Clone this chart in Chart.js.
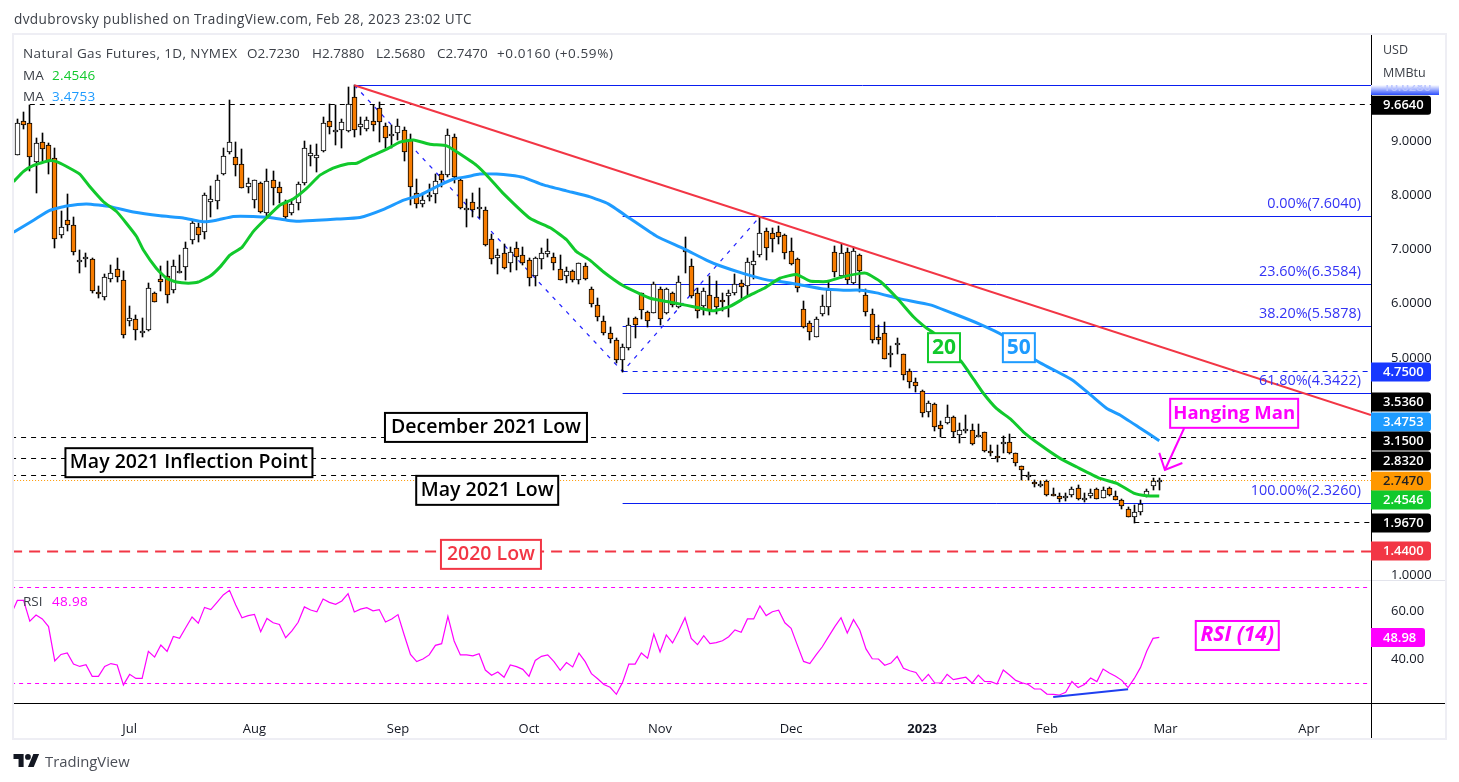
<!DOCTYPE html>
<html>
<head>
<meta charset="utf-8">
<title>Natural Gas Futures</title>
<script src="https://cdn.jsdelivr.net/npm/chart.js@4"></script>
<style>
    html, body { margin: 0; padding: 0; background: #fff; }
    body { width: 1459px; height: 782px; position: relative; overflow: hidden; font-family: "Open Sans", sans-serif; color: #3c4048; }
    canvas { position: absolute; left: 0; top: 0; }
    .txt { position: absolute; white-space: pre; font-size: 13.5px; line-height: 18px; transform: translateY(-50%); }
    .logo { position: absolute; left: 13px; top: 754px; }
</style>
</head>
<body>
<canvas id="chart" width="1459" height="782"></canvas>
<div class="txt" style="left:14px;top:19px;font-size:13.6px;letter-spacing:0.37px">dvdubrovsky published on TradingView.com, Feb 28, 2023 23:02 UTC</div>
<div class="txt" style="left:23px;top:53px;letter-spacing:0.4px">Natural Gas Futures, 1D, NYMEX</div>
<div class="txt" style="left:247px;top:53px">O2.7230</div>
<div class="txt" style="left:312px;top:53px">H2.7880</div>
<div class="txt" style="left:376px;top:53px">L2.5680</div>
<div class="txt" style="left:437px;top:53px">C2.7470</div>
<div class="txt" style="left:497px;top:53px;letter-spacing:0.6px">+0.0160 (+0.59%)</div>
<div class="txt" style="left:23px;top:75px">MA</div>
<div class="txt" style="left:52px;top:75px;color:#11c92c;letter-spacing:0.2px">2.4546</div>
<div class="txt" style="left:23px;top:96px">MA</div>
<div class="txt" style="left:52px;top:96px;color:#1e9bff;letter-spacing:0.2px">3.4753</div>
<div class="txt" style="left:23px;top:601px">RSI</div>
<div class="txt" style="left:52px;top:601px;color:#ff00ff;letter-spacing:0.3px">48.98</div>
<div class="txt" style="left:1383px;top:50px;font-size:12.5px">USD</div>
<div class="txt" style="left:1383px;top:73px;font-size:12.5px">MMBtu</div>
<svg class="logo" width="27" height="13" viewBox="0 0 36 18"><path d="M14 18H7V7H0V0h14v18zM28 18h-8l7.5-18h8L28 18z" fill="#131722"/><circle cx="20" cy="4" r="4" fill="#131722"/></svg>
<div class="txt" style="left:45px;top:761px;font-size:14.8px;color:#4a4e57">TradingView</div>
<script>
// candles, one per session
const opens = [8.75,9.36,9.33,8.62,8.99,8.92,8.68,7.26,7.54,7.45,
    6.79,6.84,6.82,6.22,6.12,6.46,6.64,6.43,5.69,5.71,
    5.46,5.52,6.19,6.45,6.52,6.25,6.58,6.67,7.17,7.42,
    7.32,7.87,7.89,8.39,8.80,8.70,8.57,8.15,7.91,8.22,
    7.67,8.28,8.15,7.87,7.67,7.85,8.22,8.72,8.68,8.81,
    9.36,9.16,9.20,9.18,9.82,9.25,9.23,9.36,9.60,9.27,
    9.09,9.14,9.20,9.03,8.04,7.83,7.98,8.02,8.39,8.38,
    9.07,8.29,7.74,7.87,7.74,7.72,7.19,6.84,6.93,6.76,
    7.02,6.89,6.80,6.52,6.82,6.91,6.86,6.64,6.51,6.60,
    6.43,6.69,6.27,5.97,5.68,5.46,5.33,4.96,5.18,5.73,
    6.19,5.84,5.83,6.27,5.83,6.19,5.94,6.99,6.69,6.19,
    5.95,6.16,6.12,6.06,6.14,6.19,6.38,6.32,6.71,6.89,
    7.34,7.30,7.32,7.26,6.97,6.82,5.90,5.64,5.38,5.81,
    5.94,6.95,6.52,6.95,6.38,6.89,6.16,5.82,5.38,5.46,
    5.07,5.26,5.07,4.76,4.55,4.39,4.00,4.15,3.76,3.80,
    3.91,3.58,3.67,3.67,3.56,3.63,3.29,3.19,3.43,3.45,
    3.24,3.00,2.82,2.71,2.66,2.73,2.49,2.45,2.41,2.48,
    2.60,2.40,2.45,2.58,2.41,2.60,2.45,2.38,2.21,2.06,
    2.16,2.45,2.64,2.723];
const highs = [9.40,9.54,9.66,9.05,9.14,8.96,8.88,7.71,8.02,7.59,
    6.99,6.93,6.84,6.32,6.54,6.71,6.84,6.60,5.96,5.79,
    5.73,6.38,6.22,6.70,6.78,6.81,6.90,7.13,7.54,7.48,
    8.04,8.17,8.37,8.87,9.76,8.99,8.85,8.31,8.29,8.25,
    8.48,8.45,8.24,7.91,7.89,8.25,9.00,8.93,8.95,9.44,
    9.68,9.66,9.40,9.99,10.028,9.45,9.44,9.66,9.71,9.33,
    9.30,9.40,9.25,9.12,8.30,8.04,8.21,8.40,8.45,9.23,
    9.12,8.30,7.93,8.04,8.13,7.78,7.29,7.00,7.11,7.04,
    7.13,7.04,6.84,6.86,7.02,7.19,6.93,6.89,6.68,6.62,
    6.76,6.75,6.30,6.10,5.78,5.57,5.36,5.26,5.74,5.75,
    6.19,5.87,6.40,6.30,6.29,6.22,6.51,7.23,6.82,6.29,
    6.29,6.51,6.42,6.19,6.26,6.54,6.44,6.84,6.97,7.60,
    7.39,7.39,7.43,7.28,7.21,6.84,6.05,5.69,5.76,6.16,
    6.41,7.06,7.10,7.02,7.05,6.91,6.27,5.90,5.60,5.66,
    5.23,5.36,5.07,4.79,4.63,4.41,4.21,4.17,3.83,4.13,
    3.93,3.80,3.94,3.78,3.78,3.64,3.40,3.40,3.56,3.59,
    3.24,3.01,2.89,2.76,2.73,2.76,2.60,2.51,2.51,2.62,
    2.65,2.51,2.58,2.60,2.62,2.62,2.54,2.40,2.26,2.29,
    2.38,2.58,2.78,2.788];
const lows = [8.75,9.22,8.44,8.04,8.63,8.40,7.02,7.21,7.35,6.89,
    6.56,6.68,6.19,6.10,6.07,6.41,6.41,5.36,5.59,5.34,
    5.39,5.49,6.03,6.24,6.02,6.19,6.56,6.43,7.11,7.13,
    7.19,7.60,7.75,8.37,8.76,8.36,8.13,8.04,7.76,7.67,
    7.58,7.82,7.85,7.56,7.64,7.72,8.19,8.53,8.42,8.79,
    9.13,8.93,8.88,9.17,9.07,9.11,9.19,9.19,8.99,8.88,
    8.87,9.02,8.63,7.82,7.76,7.78,7.90,7.86,8.15,8.33,
    8.22,7.74,7.42,7.59,7.58,7.07,6.73,6.54,6.64,6.58,
    6.62,6.72,6.32,6.32,6.64,6.87,6.62,6.43,6.38,6.41,
    6.36,6.43,5.94,5.69,5.43,5.27,4.90,4.75,5.15,5.36,
    5.72,5.57,5.83,5.61,5.81,5.94,5.92,6.57,6.10,5.73,
    5.79,5.79,5.82,5.87,5.75,6.16,6.07,6.14,6.46,6.86,
    6.81,6.95,7.11,6.82,6.72,6.22,5.56,5.34,5.38,5.78,
    5.79,6.50,6.47,6.36,6.36,6.22,5.78,5.27,5.26,4.99,
    4.84,5.07,4.60,4.44,4.38,3.91,3.91,3.66,3.54,3.78,
    3.54,3.43,3.61,3.39,3.54,3.27,3.19,3.09,3.24,3.23,
    3.00,2.76,2.76,2.62,2.62,2.46,2.45,2.35,2.37,2.43,
    2.38,2.35,2.41,2.40,2.41,2.45,2.38,2.21,2.06,1.967,
    2.10,2.43,2.56,2.568];
const closes = [9.33,9.29,8.70,8.96,8.85,8.61,7.19,7.41,7.46,6.95,
    6.81,6.86,6.24,6.21,6.50,6.56,6.49,5.42,5.73,5.51,
    5.50,6.29,6.03,6.41,6.16,6.69,6.60,7.02,7.48,7.26,
    8.00,7.93,8.29,8.72,8.99,8.55,8.13,8.22,8.28,7.70,
    8.26,8.13,8.05,7.59,7.83,8.20,8.87,8.77,8.74,9.33,
    9.25,9.20,9.35,9.68,9.20,9.32,9.38,9.29,9.35,9.05,
    9.12,9.27,8.79,8.15,7.83,7.91,8.00,8.26,8.28,9.11,
    8.33,7.76,7.76,7.72,7.78,7.08,6.82,6.89,6.65,6.95,
    6.87,6.76,6.47,6.84,6.93,6.97,6.75,6.43,6.60,6.43,
    6.75,6.45,5.99,5.75,5.46,5.35,4.96,5.20,5.60,5.60,
    5.88,5.68,6.36,5.71,6.27,5.97,6.40,6.95,6.14,5.86,
    6.23,5.88,5.94,6.03,6.19,6.36,6.30,6.77,6.78,7.30,
    7.02,7.19,7.23,6.93,6.73,6.29,5.57,5.47,5.71,5.95,
    6.25,6.58,6.93,6.43,6.97,6.60,5.84,5.33,5.33,4.99,
    5.09,5.28,4.68,4.55,4.48,3.98,4.17,3.72,3.70,3.91,
    3.63,3.67,3.69,3.41,3.58,3.29,3.27,3.17,3.45,3.24,
    3.06,2.93,2.84,2.67,2.67,2.47,2.45,2.40,2.45,2.58,
    2.40,2.41,2.51,2.40,2.56,2.47,2.38,2.27,2.06,2.17,
    2.30,2.54,2.73,2.747];

// moving averages, read at the bends of each curve (bar position, price)
const ma20Bars = [-0.6,1,2.6,5.2,6.3,7.9,10,11.6,13.8,15.9,17.5,19.1,20.2,22.3,23.9,25.5,27.4,29,30.9,32.5,34.1,36,37.8,40,42.1,44.2,46.4,48.5,50.6,53,54.4,56.5,59.2,61.3,63.5,66.1,68.8,70.4,73.6,75.7,77.9,82.2,85.4,88,89.6,91.8,93.9,97.1,99.8,101.4,104.1,107.3,109.4,111.5,114.2,116.9,119.6,122.2,124.9,127,129.7,132.4,135.1,136.1,138.3,141,143.6,145.7,146.8,151.3,153.3,154.8,156.9,159.3,161.2,163.9,167.1,169.8,173.5,176.2,178.9,181,183];
const ma20Vals = [8.25,8.44,8.55,8.64,8.62,8.53,8.39,8.16,7.88,7.70,7.48,7.24,6.99,6.65,6.47,6.40,6.38,6.40,6.51,6.68,6.90,7.04,7.33,7.59,7.82,7.93,8.13,8.37,8.50,8.58,8.59,8.71,8.85,8.98,9.02,8.94,8.91,8.80,8.55,8.31,8.03,7.57,7.40,7.18,6.96,6.80,6.59,6.33,6.18,6.10,6.04,5.97,5.92,5.87,5.95,6.13,6.28,6.47,6.54,6.42,6.41,6.50,6.56,6.56,6.41,6.10,5.76,5.55,5.47,4.93,4.60,4.35,4.07,3.86,3.64,3.40,3.15,2.99,2.78,2.69,2.51,2.46,2.4546];
const ma50Bars = [-0.6,2.6,5.2,7.9,11.1,14.9,18.6,22.9,26.6,29.8,31.9,34.6,37.8,40.5,43.2,45,48,51.2,54.9,58.7,61.9,64.5,67.2,69.9,72,74.1,76.8,79,81.1,84.3,88,91.8,94.7,98.2,102.5,106.7,110.5,112.6,116.3,120.1,122.2,125.4,129.2,132.4,135.1,137.7,141.5,146.3,150,154.3,157.9,163.2,169,171.9,174.6,176.7,179.9,183];
const ma50Vals = [7.32,7.54,7.72,7.80,7.84,7.79,7.69,7.62,7.58,7.51,7.54,7.61,7.61,7.59,7.54,7.52,7.54,7.56,7.59,7.74,7.91,8.00,8.16,8.30,8.34,8.39,8.39,8.37,8.33,8.19,8.08,7.97,7.84,7.57,7.24,7.02,6.80,6.70,6.56,6.44,6.41,6.35,6.27,6.25,6.25,6.20,6.09,5.98,5.82,5.62,5.42,4.96,4.60,4.33,4.07,3.95,3.71,3.4753];

// RSI, one value per session, the first one is the bar left of the first candle
const rsiVals = [58.6,64.4,64.4,55.8,58.3,56.7,53.5,39.2,41.9,42.5,37.9,36.9,37.6,32.8,32.8,36.9,38.1,37.5,29.2,33.6,31.9,31.9,43.2,40.8,45.8,43.2,49.4,48.6,53.1,57.5,54.9,61.5,60.6,63.6,66.7,68.6,62.5,57.2,58.1,58.6,51.4,56.9,55.1,54.4,48.9,51.7,55.3,61.7,60.4,59.7,65.0,63.6,62.8,64.2,67.2,59.6,60.8,61.4,60.1,60.6,55.4,56.7,58.5,50.0,41.9,38.9,40.0,41.7,45.7,46.4,57.8,47.5,41.7,41.7,41.3,42.2,35.4,33.2,34.6,32.4,37.5,36.8,35.7,32.8,39.4,41.1,41.7,38.9,35.3,38.5,36.7,42.4,38.9,33.9,31.8,29.4,28.2,25.3,30.3,37.9,37.9,42.5,40.3,50.4,42.9,50.0,46.7,51.7,57.2,48.6,46.0,49.7,46.4,46.8,
    47.6,49.3,52.1,51.1,56.7,56.7,62.1,58.1,59.7,60.3,55.1,52.8,45.8,39.0,38.1,41.7,45.1,49.3,53.5,57.2,50.8,56.4,52.1,44.2,40.1,40.0,37.4,38.3,41.1,36.1,35.1,34.4,30.8,33.6,30.1,30.0,33.6,31.4,31.9,32.4,30.0,33.3,30.7,30.6,29.6,35.4,33.3,31.1,30.1,29.4,27.5,27.5,25.4,25.3,25.0,26.1,30.6,28.1,29.4,32.1,30.6,35.8,34.2,32.8,31.1,28.1,31.9,36.5,43.3,48.6,48.98];

// axis ticks
const priceTicks = [1, 5, 6, 7, 8, 9];
const rsiTicks = [40, 60];
const monthBars = [18, 38, 61, 82, 103, 124, 145, 165, 184, 207];
const monthNames = ["Jul", "Aug", "Sep", "Oct", "Nov", "Dec", "2023", "Feb", "Mar", "Apr"];

// drawn levels and lines
const fibPrices = [7.604, 6.3584, 5.5878, 4.3422, 2.326];
const fibNames = ["0.00%(7.6040)", "23.60%(6.3584)", "38.20%(5.5878)", "61.80%(4.3422)", "100.00%(2.3260)"];
const dashedLevels = [[2, 9.664], [-1, 3.536], [-1, 3.15], [-1, 2.832], [179, 1.967]];
const lastPrice = 2.747;
const lowLevel2020 = 1.44;
const fibMidLevel = 4.75;
const topLevel = 10.028;
const trendBars = [54, 216.93];
const trendVals = [10.028, 3.95];
const zigzagBars = [54, 97, 119];
const zigzagVals = [10.028, 4.75, 7.604];
const arrowBars = [187, 183.9];
const arrowVals = [3.71, 2.935];
const arrowHeadBars = [183, 183.9, 186.7];
const arrowHeadVals = [3.25, 2.935, 3.065];
const rsiDivBars = [166, 178];
const rsiDivVals = [24.2, 27.4];

const FONT = '"Open Sans", sans-serif';
const BLUE = "#0a1ef0";
const FIB_TEXT = "#3333f5";
const ORANGE = "#f77c00";
const MAGENTA = "#ff00ff";
const GREEN = "#11c92c";
const SKY = "#1e9bff";
const RED = "#f23645";
const X_MIN = -0.534;
const X_MAX = 216.93;

// boxed notes on the chart, placed in bar/price units
const notes = [
    { text: "December 2021 Low", x: 75.1, y: 3.72, w: 202, color: "#000", size: 19.5 },
    { text: "May 2021 Inflection Point", x: 27.5, y: 3.07, w: 247, color: "#000", size: 19.5 },
    { text: "May 2021 Low", x: 75.3, y: 2.56, w: 142, color: "#000", size: 19.5 },
    { text: "2020 Low", x: 75.9, y: 1.38, w: 100, color: RED, size: 19.5 },
    { text: "20", x: 148.5, y: 5.19, w: 32, color: GREEN, size: 21, bold: true },
    { text: "50", x: 160.5, y: 5.19, w: 32, color: SKY, size: 21, bold: true },
    { text: "Hanging Man", x: 195, y: 3.98, w: 128, color: MAGENTA, size: 18.5, bold: true },
    { text: "RSI (14)", x: 195.5, y: 49.8, w: 83, color: MAGENTA, size: 21, bold: true, italic: true, scale: "rsi" }
];

// price tags on the axis; "at" is where the tag sits after the overlaps are pushed apart
const tags = [
    { text: "9.6640", at: 9.66, bg: "#000", fg: "#fff" },
    { text: "4.7500", at: 4.74, bg: "#1838ff", fg: "#fff" },
    { text: "3.5360", at: 4.19, bg: "#000", fg: "#fff" },
    { text: "3.4753", at: 3.82, bg: "#1e9bff", fg: "#fff" },
    { text: "3.1500", at: 3.47, bg: "#000", fg: "#fff" },
    { text: "2.8320", at: 3.10, bg: "#000", fg: "#fff" },
    { text: "2.7470", at: 2.73, bg: "#ff9800", fg: "#222" },
    { text: "2.4546", at: 2.38, bg: GREEN, fg: "#fff" },
    { text: "1.9670", at: 1.96, bg: "#000", fg: "#fff" },
    { text: "1.4400", at: 1.44, bg: RED, fg: "#fff" },
    { text: "48.98", at: 48.98, bg: MAGENTA, fg: "#fff", scale: "rsi" }
];

const pairs = (xs, ys) => xs.map((x, i) => ({ x: x, y: ys[i] }));
const bars = opens.map((_, i) => i);

function lineSet(data, color, width, dash, extra) {
    return Object.assign({
        type: "line", data: data, borderColor: color, borderWidth: width, borderDash: dash || [],
        pointRadius: 0, fill: false, order: 6, yAxisID: "y"
    }, extra || {});
}

function levelSet(from, price, color, width, dash, axis) {
    return lineSet(pairs([from, X_MAX], [price, price]), color, width, dash, { snap: true, order: 12, yAxisID: axis || "y" });
}

const datasets = [];
datasets.push(levelSet(54, topLevel, BLUE, 1));
dashedLevels.forEach(l => datasets.push(levelSet(l[0], l[1], "#000", 1, [5, 5])));
fibPrices.forEach(p => datasets.push(levelSet(97, p, BLUE, 1)));
datasets.push(levelSet(97, fibMidLevel, BLUE, 1, [5, 5]));
datasets.push(levelSet(-1, lastPrice, "#ff9800", 1, [1, 2]));
datasets.push(levelSet(-1, lowLevel2020, RED, 2, [11, 7]));
datasets.push(lineSet(pairs(zigzagBars, zigzagVals), "#2222ff", 1.25, [4, 6], { order: 11 }));

datasets.push({
    type: "bar", label: "wick", yAxisID: "y", order: 10, grouped: false, barThickness: 1, candle: true,
    backgroundColor: "#000",
    data: bars.map(i => ({ x: i, y: [lows[i], highs[i]] }))
});
datasets.push({
    type: "bar", label: "body", yAxisID: "y", order: 9, grouped: false, barThickness: 5, candle: true, body: true,
    backgroundColor: bars.map(i => closes[i] >= opens[i] ? "#fff" : ORANGE),
    borderColor: "#000", borderWidth: 1, borderSkipped: false,
    data: bars.map(i => ({ x: i, y: [opens[i], closes[i]] }))
});

datasets.push(lineSet(pairs(ma50Bars, ma50Vals), SKY, 3, null, { tension: 0.15, order: 8 }));
datasets.push(lineSet(pairs(ma20Bars, ma20Vals), GREEN, 3, null, { tension: 0.15, order: 7 }));
datasets.push(lineSet(pairs(trendBars, trendVals), RED, 2, null, { order: 5 }));
datasets.push(lineSet(pairs(arrowBars, arrowVals), MAGENTA, 2, null, { order: 4 }));
datasets.push(lineSet(pairs(arrowHeadBars, arrowHeadVals), MAGENTA, 2, null, { order: 4 }));

datasets.push(levelSet(-1, 70, MAGENTA, 1, [4, 4], "rsi"));
datasets.push(levelSet(-1, 30, MAGENTA, 1, [4, 4], "rsi"));
datasets.push(lineSet(rsiVals.map((v, i) => ({ x: i - 1, y: v })), MAGENTA, 1.2, null, { yAxisID: "rsi", order: 3 }));
datasets.push(lineSet(pairs(rsiDivBars, rsiDivVals), "#1f3ff0", 2, null, { yAxisID: "rsi", order: 2 }));

// keeps candles and flat levels on whole pixels so they stay sharp
const snapPlugin = {
    id: "snap",
    beforeDatasetsDraw(chart) {
        chart.data.datasets.forEach((ds, n) => {
            const meta = chart.getDatasetMeta(n);
            if (ds.candle) {
                meta.data.forEach(el => {
                    el.x = Math.round(el.x - 0.5) + 0.5;
                    let top = Math.round(Math.min(el.y, el.base));
                    let bottom = Math.round(Math.max(el.y, el.base));
                    if (ds.body && bottom - top < 2) bottom = top + 2;
                    el.y = top;
                    el.base = bottom;
                });
            } else if (ds.snap) {
                meta.data.forEach(el => { el.y = Math.round(el.y - 0.5) + 0.5; });
            }
        });
    }
};

function drawTag(ctx, tag, y) {
    const w = tag.scale === "rsi" ? 54 : 60;
    ctx.fillStyle = tag.bg;
    ctx.beginPath();
    ctx.roundRect(1371, y - 9.5, w, 19, [0, 3, 3, 0]);
    ctx.fill();
    ctx.fillStyle = tag.fg;
    ctx.font = "600 13px " + FONT;
    ctx.textAlign = "left";
    ctx.textBaseline = "middle";
    ctx.fillText(tag.text, 1383, y + 0.5);
}

const overlayPlugin = {
    id: "overlay",
    beforeDraw(chart) {
        const ctx = chart.ctx;
        ctx.save();
        ctx.strokeStyle = "#eeeef4";
        ctx.lineWidth = 2;
        ctx.strokeRect(13, 34, 1433, 705);
        ctx.fillStyle = "#e3e4ec";
        ctx.fillRect(14, 580, 1431, 1);
        ctx.restore();
    },
    afterDraw(chart) {
        const ctx = chart.ctx;
        const xs = chart.scales.x;
        ctx.save();

        // axis lines run a bit past the plot
        ctx.fillStyle = "#000";
        ctx.fillRect(1371, 35, 1, 703);
        ctx.fillRect(14, 703, 1431, 1);

        // fib labels
        ctx.fillStyle = FIB_TEXT;
        ctx.font = "14.4px " + FONT;
        ctx.textAlign = "right";
        ctx.textBaseline = "middle";
        fibPrices.forEach((p, i) => {
            ctx.fillText(fibNames[i], 1361, chart.scales.y.getPixelForValue(p) - 12.5);
        });

        // boxed notes
        notes.forEach(n => {
            const cx = xs.getPixelForValue(n.x);
            const cy = chart.scales[n.scale || "y"].getPixelForValue(n.y);
            ctx.fillStyle = "#fff";
            ctx.fillRect(cx - n.w / 2, cy - 14.5, n.w, 29);
            ctx.strokeStyle = n.color;
            ctx.lineWidth = 2;
            ctx.strokeRect(cx - n.w / 2, cy - 14.5, n.w, 29);
            ctx.fillStyle = n.color;
            ctx.font = (n.italic ? "italic " : "") + (n.bold ? "700 " : "600 ") + n.size + "px " + FONT;
            ctx.textAlign = "center";
            ctx.textBaseline = "middle";
            ctx.fillText(n.text, cx, cy);
        });

        // the 10.0280 tag fades out under the unit label
        const grad = ctx.createLinearGradient(0, 85, 0, 95);
        grad.addColorStop(0, "#ffffff");
        grad.addColorStop(1, "#2a4dff");
        ctx.fillStyle = grad;
        ctx.fillRect(1371, 85, 68, 10);
        ctx.save();
        ctx.beginPath();
        ctx.rect(1371, 85, 68, 10);
        ctx.clip();
        ctx.fillStyle = "#b9c4ff";
        ctx.font = "600 13px " + FONT;
        ctx.textAlign = "left";
        ctx.textBaseline = "middle";
        ctx.fillText("10.0280", 1383, 87);
        ctx.restore();

        tags.forEach(t => drawTag(ctx, t, chart.scales[t.scale || "y"].getPixelForValue(t.at)));
        ctx.restore();
    }
};

new Chart(document.getElementById("chart"), {
    type: "bar",
    data: { datasets: datasets },
    plugins: [snapPlugin, overlayPlugin],
    options: {
        responsive: false,
        animation: false,
        devicePixelRatio: 1,
        events: [],
        layout: { padding: { left: 14, right: 14, top: 35, bottom: 44 } },
        plugins: { legend: { display: false }, tooltip: { enabled: false }, title: { display: false } },
        scales: {
            x: {
                type: "linear",
                min: X_MIN,
                max: X_MAX,
                offset: false,
                grid: { display: false },
                border: { display: false },
                afterBuildTicks: scale => { scale.ticks = monthBars.map(v => ({ value: v })); },
                afterFit: scale => { scale.height = 35; },
                ticks: {
                    autoSkip: false,
                    maxRotation: 0,
                    padding: 10,
                    color: "#131722",
                    font: c => ({ family: FONT, size: 13, weight: c.tick && c.tick.label === "2023" ? "bold" : "normal" }),
                    callback: value => monthNames[monthBars.indexOf(value)]
                }
            },
            y: {
                position: "right",
                stack: "panes",
                stackWeight: 546,
                min: 0.889,
                max: 10.954,
                grid: { display: false },
                border: { display: false },
                afterBuildTicks: scale => { scale.ticks = priceTicks.map(v => ({ value: v })); },
                afterFit: scale => { scale.width = 74; },
                ticks: {
                    padding: 12,
                    color: "#131722",
                    font: { family: FONT, size: 13 },
                    callback: value => value.toFixed(4)
                }
            },
            rsi: {
                position: "right",
                stack: "panes",
                stackWeight: 122,
                min: 21.67,
                max: 72.5,
                grid: { display: false },
                border: { display: false },
                afterBuildTicks: scale => { scale.ticks = rsiTicks.map(v => ({ value: v })); },
                afterFit: scale => { scale.width = 74; },
                ticks: {
                    padding: 12,
                    color: "#131722",
                    font: { family: FONT, size: 13 },
                    callback: value => value.toFixed(2)
                }
            }
        }
    }
});
</script>
</body>
</html>
